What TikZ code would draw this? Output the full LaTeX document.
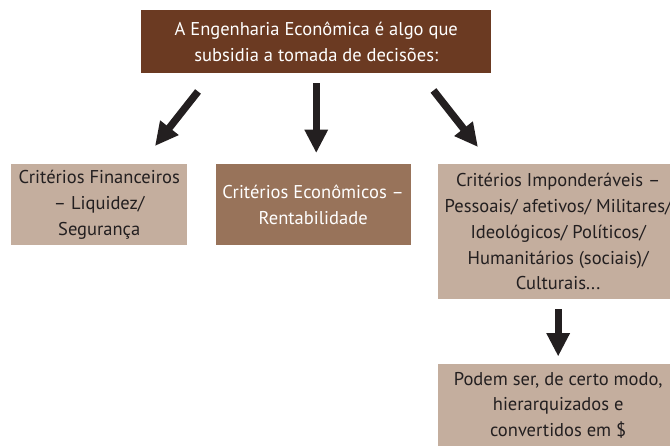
\documentclass[tikz,border=0pt]{standalone}
\usepackage{fontspec}
\setmainfont{PT Sans}
\usetikzlibrary{arrows.meta, positioning}
\definecolor{darkbrown}{HTML}{6B3A22}
\definecolor{midbrown}{HTML}{98735A}
\definecolor{lightbrown}{HTML}{C4AE9E}
\definecolor{inkgray}{HTML}{231F20}

\begin{document}
\begin{tikzpicture}[
    every node/.style={font=\fontsize{15.8}{22}\selectfont},
    box/.style={inner sep=0pt, align=center, anchor=north west},
    darkbox/.style={box, fill=darkbrown, text=white},
    midbox/.style={box, fill=midbrown, text=white},
    lightbox/.style={box, fill=lightbrown, text=inkgray},
    fatarr/.style={-{Triangle[length=0.7cm, width=0.66cm]}, line width=0.22cm, draw=inkgray},
  ]
  \useasboundingbox (0,0) rectangle (20.1,-13.35);
  \clip (0,0) rectangle (20.1,-13.35);

  %% ===== Top box =====
  \node[darkbox, minimum width=10.5cm, minimum height=1.89cm] (eng) at (4.23,-0.3)
    {A Engenharia Econômica é algo que\\subsidia a tomada de decisões:};

  %% ===== Criteria row =====
  \node[lightbox, minimum width=5.28cm, minimum height=2.43cm] (fin) at (0.33,-4.92)
    {Critérios Financeiros\\– Liquidez/\\Segurança};
  \node[midbox, right=0.84cm of fin.north east, anchor=north west, minimum width=5.85cm, minimum height=2.43cm] (eco)
    {Critérios Econômicos –\\Rentabilidade};
  \node[lightbox, right=0.81cm of eco.north east, anchor=north west, minimum width=7.2cm, minimum height=4.05cm] (imp)
    {Critérios Imponderáveis –\\Pessoais/ afetivos/ Militares/\\Ideológicos/ Políticos/\\Humanitários (sociais)/\\Culturais...};

  %% ===== Bottom box =====
  \node[lightbox, below=1.92cm of imp, minimum width=7.2cm, minimum height=2.49cm] (pod)
    {Podem ser, de certo modo,\\hierarquizados e\\convertidos em \$};

  %% ===== Arrows =====
  \draw[fatarr] ([xshift=1.71cm, yshift=-0.54cm]eng.south west) -- ([xshift=4.32cm, yshift=0.54cm]fin.north west);
  \draw[fatarr] ([yshift=-0.3cm]eng.south) -- ([yshift=0.33cm]eng.south |- eco.north);
  \draw[fatarr] ([xshift=-1.74cm, yshift=-0.51cm]eng.south east) -- ([xshift=1.2cm, yshift=0.51cm]imp.north west);
  \draw[fatarr] ([yshift=-0.3cm]imp.south) -- ([yshift=0.21cm]pod.north);

\end{tikzpicture}
\end{document}
